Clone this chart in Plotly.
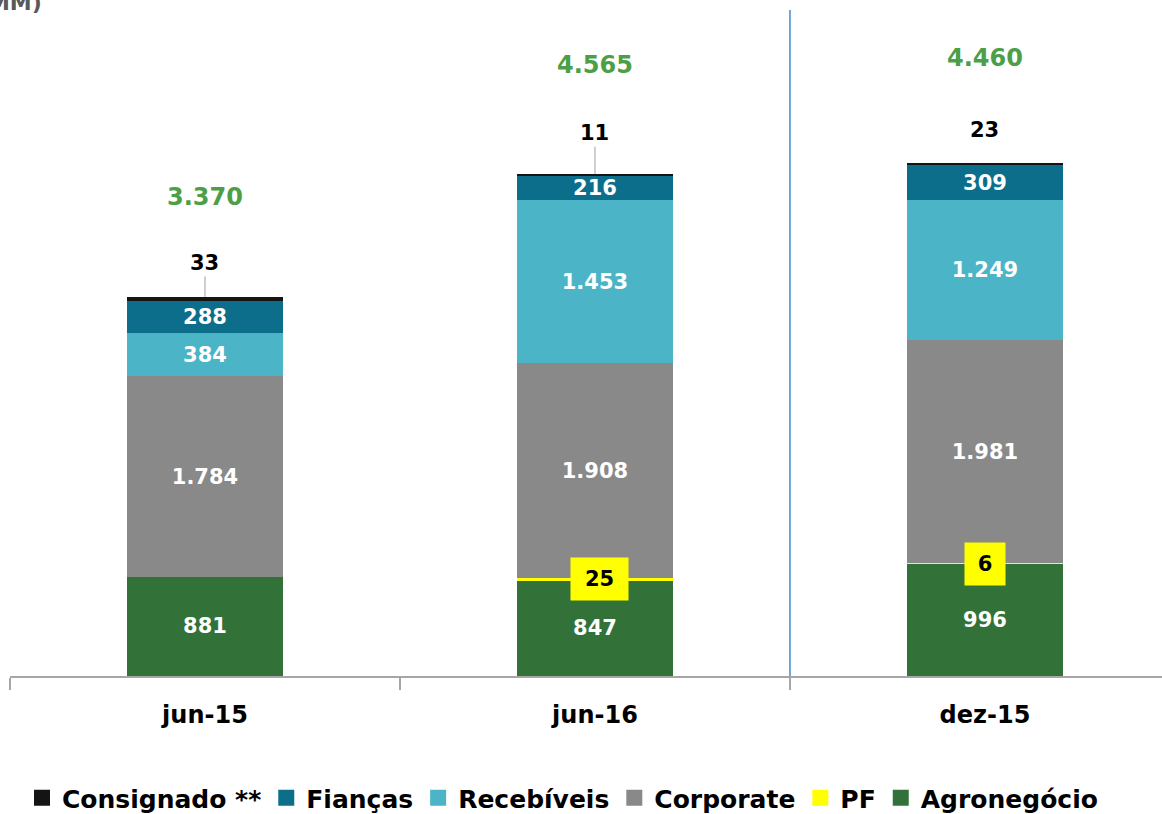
import plotly.graph_objects as go

categories = ["jun-15", "jun-16", "dez-15"]
agronegocio = [881, 847, 996]
pf = [0, 25, 6]
corporate = [1784, 1908, 1981]
recebiveis = [384, 1453, 1249]
fiancas = [288, 216, 309]
consignado = [33, 11, 23]
total_labels = ["3.370", "4.565", "4.460"]
pf_labels = [None, "25", "6"]

# styles (not data)
total_shift = [100, 109, 105]
consig_shift = [34, 41, 33]
consig_arrow = [True, True, False]

FONT = "DejaVu Sans"
colors = {
    "Agronegócio": "#327238",
    "PF": "#ffff00",
    "Corporate": "#898989",
    "Recebíveis": "#4bb4c6",
    "Fianças": "#0d6e8c",
    "Consignado **": "#141414",
}

fig = go.Figure()

series = [
    ("Agronegócio", agronegocio, True),
    ("PF", pf, False),
    ("Corporate", corporate, True),
    ("Recebíveis", recebiveis, True),
    ("Fianças", fiancas, True),
    ("Consignado **", consignado, False),
]

for name, vals, show_text in series:
    fig.add_trace(go.Bar(
        x=categories, y=vals, name=name,
        marker=dict(color=colors[name], line=dict(width=0)),
        width=0.4,
        texttemplate="%{y:,.0f}" if show_text else None,
        textposition="inside" if show_text else "none",
        insidetextanchor="middle",
        constraintext="none",
        textfont=dict(family=FONT, size=21, color="white", weight="bold"),
        showlegend=False,
        hoverinfo="skip",
    ))

# legend entries (square markers)
for name in ["Consignado **", "Fianças", "Recebíveis", "Corporate", "PF", "Agronegócio"]:
    fig.add_trace(go.Scatter(
        x=[None], y=[None], mode="markers", name=name,
        marker=dict(symbol="square", size=16, color=colors[name]),
        showlegend=True,
    ))

stack_tops = [a + p + c + r + f + k for a, p, c, r, f, k in
              zip(agronegocio, pf, corporate, recebiveis, fiancas, consignado)]

annotations = []
for i, cat in enumerate(categories):
    annotations.append(dict(
        x=cat, y=stack_tops[i], text=total_labels[i], showarrow=False,
        yshift=total_shift[i], yanchor="middle",
        font=dict(family=FONT, size=24, color="#4c9e47", weight="bold"),
    ))
    if consig_arrow[i]:
        annotations.append(dict(
            x=cat, y=stack_tops[i], text=str(consignado[i]), showarrow=True,
            arrowhead=0, arrowwidth=1, arrowcolor="#a0a0a0",
            ax=0, ay=-consig_shift[i], standoff=0,
            font=dict(family=FONT, size=21, color="black", weight="bold"),
        ))
    else:
        annotations.append(dict(
            x=cat, y=stack_tops[i], text=str(consignado[i]), showarrow=False,
            yshift=consig_shift[i], yanchor="middle",
            font=dict(family=FONT, size=21, color="black", weight="bold"),
        ))
    if pf_labels[i]:
        annotations.append(dict(
            x=cat, y=agronegocio[i] + pf[i] / 2, text=pf_labels[i], showarrow=False,
            bgcolor="#ffff00", width=38 if len(pf_labels[i]) == 1 else 55, height=40,
            xshift=0 if len(pf_labels[i]) == 1 else 5,
            font=dict(family=FONT, size=21, color="black", weight="bold"),
        ))

annotations.append(dict(
    xref="paper", yref="paper", x=(44 - 10) / 1152, y=1 + (10 - 2) / 666,
    xanchor="right", yanchor="middle", text="(R$ MM)", showarrow=False,
    font=dict(family=FONT, size=22, color="#595959", weight="bold"),
))

fig.update_layout(
    barmode="stack",
    width=1162, height=814,
    margin=dict(l=10, r=0, t=10, b=138, autoexpand=False),
    paper_bgcolor="white", plot_bgcolor="white",
    separators=",.",
    annotations=annotations,
    shapes=[dict(type="line", xref="x", yref="paper", x0=1.5, x1=1.5, y0=0, y1=1,
                 line=dict(color="#3d8bd4", width=1.5))],
    legend=dict(orientation="h", traceorder="normal", xref="paper", yref="paper",
                x=(22 - 10) / 1152, y=(676 - 798) / 666, xanchor="left", yanchor="middle",
                font=dict(family=FONT, size=25, color="black", weight="bold"),
                itemwidth=30, tracegroupgap=0, bgcolor="rgba(0,0,0,0)"),
    font=dict(family=FONT),
)

fig.update_xaxes(
    type="category", range=[-0.5, 2.454], automargin=False,
    showline=True, linecolor="#a6a6a6", linewidth=1.5,
    ticks="outside", tickson="boundaries", ticklen=12, tickcolor="#a6a6a6", tickwidth=1.5,
    tickfont=dict(family=FONT, size=24, color="black", weight="bold"),
    ticklabelstandoff=16,
    showgrid=False, zeroline=False,
)
fig.update_yaxes(range=[0, 5920], visible=False, showgrid=False, zeroline=False)

fig.write_html("out.html", config={"displayModeBar": False},
               post_script="document.body.style.margin='0px';")
